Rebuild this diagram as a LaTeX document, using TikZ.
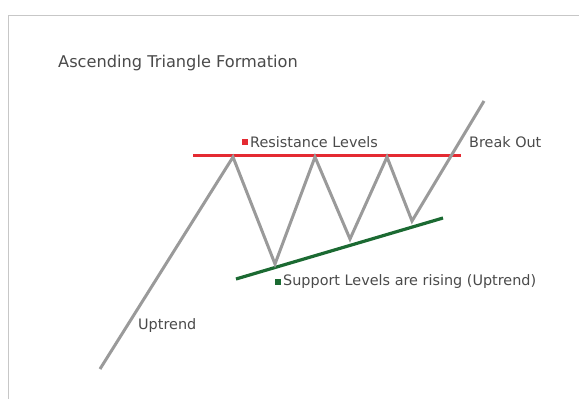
\documentclass[tikz,border=0pt]{standalone}
\usepackage{fontspec}
\setmainfont{DejaVu Sans}
\usetikzlibrary{positioning}
\definecolor{linegray}{HTML}{9A9A9A}
\definecolor{resred}{HTML}{E42A32}
\definecolor{supgreen}{HTML}{1B6A32}
\definecolor{txtgray}{HTML}{4A4A4A}
\tikzset{
  price/.style = {draw=linegray, line width=3pt, line join=miter},
  resline/.style = {draw=resred, line width=3pt},
  supline/.style = {draw=supgreen, line width=3.2pt},
  lbl/.style = {inner sep=0pt, anchor=west, text=txtgray,
    font=\fontsize{14.4}{16}\selectfont},
  sqbox/.style = {inner sep=0pt, minimum size=6pt}
}
\begin{document}
\begin{tikzpicture}[x=1pt, y=-1pt]
\useasboundingbox (0,0) rectangle (579,399);
% frame
\draw[black!22, line width=1.6pt] (8.5,399) |- (579,15.5);
\node [lbl, font=\fontsize{16.2}{18}\selectfont] (title) at (58,63) {Ascending Triangle Formation};
% price path
\coordinate (start) at (100,369);
\coordinate (p1) at (233,157);
\coordinate (v1) at (275,264);
\coordinate (p2) at (315,157);
\coordinate (v2) at (350,239);
\coordinate (p3) at (387,157);
\coordinate (v3) at (412,221);
\coordinate (out) at (484,101);
% resistance and support
\coordinate (rl) at (193,155);
\coordinate (rr) at (461,155);
\coordinate (sl) at (236,279);
\coordinate (sr) at (443,218);
\draw [resline] (rl) -- (rr);
\draw [supline] (sl) -- (sr);
\draw [price] (start) -- (p1) -- (v1) -- (p2) -- (v2) -- (p3) -- (v3) -- (out);
% labels
\node [lbl] (restxt) at (250,142) {Resistance Levels};
\node [sqbox, fill=resred, left=2pt of restxt] (resbox) {};
\node [lbl] (suptxt) at (283,282) {Support Levels are rising (Uptrend)};
\node [sqbox, fill=supgreen, left=2pt of suptxt] (supbox) {};
\node [lbl] (outtxt) at (469,142) {Break Out};
\node [lbl] (uptxt) at (138,326) {Uptrend};
\end{tikzpicture}
\end{document}
